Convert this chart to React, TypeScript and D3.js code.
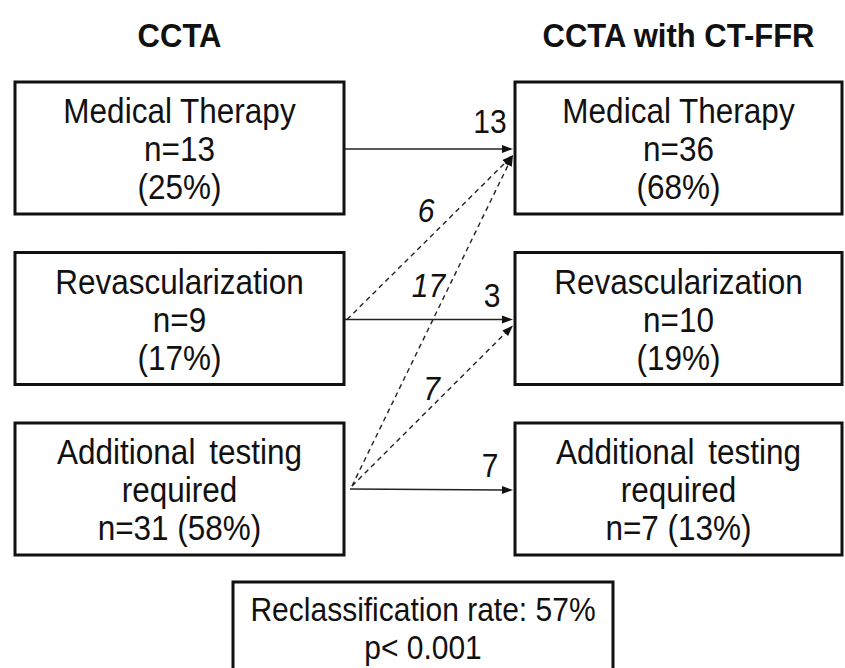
import React from "react";
import * as d3 from "d3";

const columnTitles = ["CCTA", "CCTA with CT-FFR"];
const leftLabels = [
  ["Medical Therapy", "n=13", "(25%)"],
  ["Revascularization", "n=9", "(17%)"],
  ["Additional testing", "required", "n=31 (58%)"],
];
const rightLabels = [
  ["Medical Therapy", "n=36", "(68%)"],
  ["Revascularization", "n=10", "(19%)"],
  ["Additional testing", "required", "n=7 (13%)"],
];
// flows: from row (left), to row (right), count, dashed (reclassified)
const flowFrom = [0, 1, 2, 1, 2, 2];
const flowTo = [0, 0, 0, 1, 1, 2];
const flowValues = [13, 6, 17, 3, 7, 7];
const flowDashed = [false, true, true, false, true, false];
const summaryLines = ["Reclassification rate: 57%", "p< 0.001"];

const W = 845;
const H = 668;
const FONT = "'Liberation Sans', Arial, Helvetica, sans-serif";

export default function App() {
  const rowY = d3.scaleLinear().domain([0, 2]).range([148, 489]);
  const colX = d3.scaleOrdinal<number, number>().domain([0, 1]).range([15, 515]);
  const boxW = [329, 327];
  const boxH = 132;
  const lineStep = 38;

  const line = d3.line<[number, number]>();

  const leftEdge = 345;
  const rightEdge = 513;
  const startY = (r: number) => rowY(r) + (r === 2 ? 0 : 1);
  const endY = (r: number, dashed: boolean) => rowY(r) + (dashed ? 7 : 1);

  // label offsets relative to arrow geometry
  const labelOffsets: [number, number][] = [
    [-23, -28],
    [-4, -27],
    [-4, -35],
    [-21, -24],
    [-1, -17],
    [-23, -25],
  ];

  const renderBox = (col: number, row: number, lines: string[], key: string) => {
    const x = colX(col);
    const cy = rowY(row);
    const w = boxW[col];
    return (
      <g key={key}>
        <rect x={x} y={cy - boxH / 2} width={w} height={boxH} fill="#fff" stroke="#111" strokeWidth={3} />
        {lines.map((t, i) => (
          <text
            key={i}
            transform={`translate(${x + w / 2},${cy + (i - 1) * lineStep + 1}) scale(1,1.1)`}
            textAnchor="middle"
            dominantBaseline="central"
            fontFamily={FONT}
            fontSize={31.5}
            wordSpacing={t.startsWith("Additional") ? 5 : 0}
            fill="#111"
          >
            {t}
          </text>
        ))}
      </g>
    );
  };

  const arrowHead = (x: number, y: number, angle: number, key: string) => {
    const len = 11;
    const half = 4;
    const pts: [number, number][] = [
      [0, 0],
      [-len, -half],
      [-len, half],
    ];
    const rot = pts.map(([px, py]) => [
      x + px * Math.cos(angle) - py * Math.sin(angle),
      y + px * Math.sin(angle) + py * Math.cos(angle),
    ]) as [number, number][];
    return <path key={key} d={line(rot) + "Z"} fill="#111" />;
  };

  return (
    <svg width={W} height={H} style={{ position: "absolute", left: 0, top: 0 }} xmlns="http://www.w3.org/2000/svg">
      <rect width={W} height={H} fill="#fff" />
      {columnTitles.map((t, i) => (
        <text
          key={t}
          transform={`translate(${colX(i) + boxW[i] / 2},47) scale(1,1.1)`}
          textAnchor="middle"
          fontFamily={FONT}
          fontWeight="bold"
          fontSize={31}
          fill="#111"
        >
          {t}
        </text>
      ))}
      {leftLabels.map((l, i) => renderBox(0, i, l, "l" + i))}
      {rightLabels.map((l, i) => renderBox(1, i, l, "r" + i))}

      {flowValues.map((v, i) => {
        const dashed = flowDashed[i];
        const x0 = leftEdge + (flowFrom[i] === 2 ? (dashed ? 7 : 5) : dashed ? 2 : 0);
        const y0 = startY(flowFrom[i]) + (dashed && flowFrom[i] === 2 ? -3 : 0);
        const x1 = rightEdge;
        const y1 = endY(flowTo[i], dashed);
        const ang = Math.atan2(y1 - y0, x1 - x0);
        const [ox, oy] = labelOffsets[i];
        const lx = dashed ? (x0 + x1) / 2 + ox : x1 + ox;
        const ly = dashed ? (y0 + y1) / 2 + oy : y1 + oy;
        return (
          <g key={"f" + i}>
            <path
              d={line([[x0, y0], [x1 - 9 * Math.cos(ang), y1 - 9 * Math.sin(ang)]]) || ""}
              stroke="#222"
              strokeWidth={dashed ? 1.4 : 1.6}
              strokeDasharray={dashed ? "5,4" : undefined}
              fill="none"
            />
            {arrowHead(x1, y1, ang, "h" + i)}
            <text
              transform={`translate(${lx},${ly}) scale(1,1.1)`}
              textAnchor="middle"
              dominantBaseline="central"
              fontFamily={FONT}
              fontSize={30}
              fontStyle={dashed ? "italic" : "normal"}
              fill="#111"
            >
              {v}
            </text>
          </g>
        );
      })}

      <g>
        <rect x={233} y={582} width={380} height={100} fill="#fff" stroke="#111" strokeWidth={3} />
        {summaryLines.map((t, i) => (
          <text
            key={i}
            transform={`translate(423,${610 + i * 38}) scale(1,1.08)`}
            textAnchor="middle"
            dominantBaseline="central"
            fontFamily={FONT}
            fontSize={30}
            fill="#111"
          >
            {t}
          </text>
        ))}
      </g>
    </svg>
  );
}
